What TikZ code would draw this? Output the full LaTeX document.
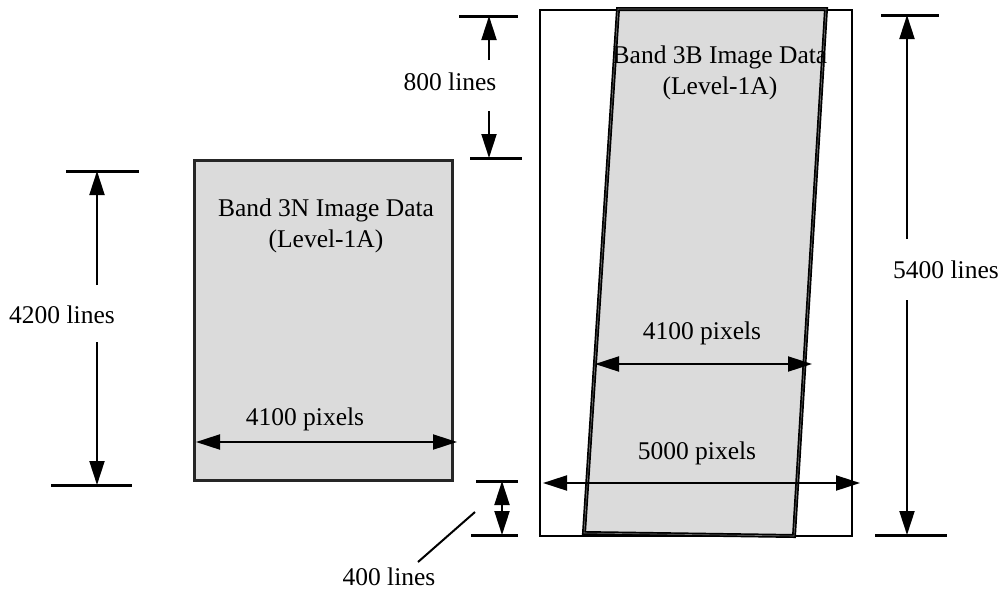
\documentclass[tikz,border=0pt]{standalone}
\usepackage{fontspec}
\setmainfont{Liberation Serif}
\usetikzlibrary{arrows.meta}
\begin{document}
\begin{tikzpicture}[x=1pt,y=-1pt,
  lbl/.style={font=\fontsize{25.5}{31}\selectfont, inner sep=0pt, align=center},
  tick/.style={line width=3pt},
  dim/.style={line width=2pt, -{Triangle[length=24pt,width=15pt]}},
  ddim/.style={line width=2pt, {Triangle[length=24pt,width=15pt]}-{Triangle[length=24pt,width=15pt]}},
  datafill/.style={fill=black!14}]
\useasboundingbox (0,0) rectangle (1002,590);
% left box (Band 3N)
\node[draw=black!85, line width=3pt, datafill, minimum width=258pt, minimum height=320pt, inner sep=0pt] (b3n) at (323,320) {};
% outer rectangle
\node[draw, line width=2.5pt, minimum width=312pt, minimum height=526pt, inner sep=0pt] (outer) at (696,273) {};
% parallelogram (Band 3B)
\coordinate (ptl) at (618,9);
\coordinate (ptr) at (826,9);
\coordinate (pbr) at (794,536);
\coordinate (pbl) at (584,533);
\draw[datafill, line width=1.7pt, double=black!55, double distance=0.6pt, line join=miter] (ptl) -- (ptr) -- (pbr) -- (pbl) -- cycle;
% texts
\node[lbl] (t3n) at (326,226) {Band 3N Image Data\\(Level-1A)};
\node[lbl] (t3b) at (720,73) {Band 3B Image Data\\(Level-1A)};
% 4200 lines
\coordinate (a1t) at (66,171); \coordinate (a1tr) at (139,171);
\coordinate (a1b) at (51,485); \coordinate (a1br) at (132,485);
\draw[tick] (a1t) -- (a1tr);
\draw[tick] (a1b) -- (a1br);
\node[lbl] (l4200) at (62,315) {4200 lines};
\coordinate (a1up) at (97,171); \coordinate (a1upo) at (97,285);
\coordinate (a1dn) at (97,485); \coordinate (a1dno) at (97,342);
\draw[dim] (a1upo) -- (a1up);
\draw[dim] (a1dno) -- (a1dn);
% 4100 pixels (left)
\coordinate (h1l) at (196,442); \coordinate (h1r) at (457,442);
\draw[ddim] (h1l) -- (h1r);
\node[lbl] (p4100a) at (305,419) {4100 pixels};
% 800 lines
\coordinate (a2t) at (459,16); \coordinate (a2tr) at (518,16);
\coordinate (a2b) at (470,158); \coordinate (a2br) at (522,158);
\draw[tick] (a2t) -- (a2tr);
\draw[tick] (a2b) -- (a2br);
\coordinate (a2up) at (489,16); \coordinate (a2upo) at (489,60);
\coordinate (a2dn) at (489,158); \coordinate (a2dno) at (489,111);
\draw[dim] (a2upo) -- (a2up);
\draw[dim] (a2dno) -- (a2dn);
\node[lbl] (l800) at (450,82) {800 lines};
% 400 lines
\coordinate (a3t) at (476,481); \coordinate (a3tr) at (518,481);
\coordinate (a3b) at (471,535); \coordinate (a3br) at (518,535);
\draw[tick] (a3t) -- (a3tr);
\draw[tick] (a3b) -- (a3br);
\coordinate (a3m) at (502,508);
\coordinate (a3up) at (502,481); \coordinate (a3dn) at (502,535);
\draw[dim] (a3m) -- (a3up);
\draw[dim] (a3m) -- (a3dn);
\node[lbl] (l400) at (389,577) {400 lines};
\coordinate (lead1) at (475,512); \coordinate (lead2) at (418,562);
\draw[line width=2pt] (lead1) -- (lead2);
% 5400 lines
\coordinate (a4t) at (881,15); \coordinate (a4tr) at (939,15);
\coordinate (a4b) at (875,535); \coordinate (a4br) at (947,535);
\draw[tick] (a4t) -- (a4tr);
\draw[tick] (a4b) -- (a4br);
\coordinate (a4up) at (907,15); \coordinate (a4upo) at (907,239);
\coordinate (a4dn) at (907,535); \coordinate (a4dno) at (907,300);
\draw[dim] (a4upo) -- (a4up);
\draw[dim] (a4dno) -- (a4dn);
\node[lbl] (l5400) at (946,270) {5400 lines};
% 4100 pixels (right)
\coordinate (h2l) at (595,364); \coordinate (h2r) at (812,364);
\draw[ddim] (h2l) -- (h2r);
\node[lbl] (p4100b) at (702,333) {4100 pixels};
% 5000 pixels
\coordinate (h3l) at (543,483); \coordinate (h3r) at (860,483);
\draw[ddim] (h3l) -- (h3r);
\node[lbl] (p5000) at (697,453) {5000 pixels};
\end{tikzpicture}
\end{document}
